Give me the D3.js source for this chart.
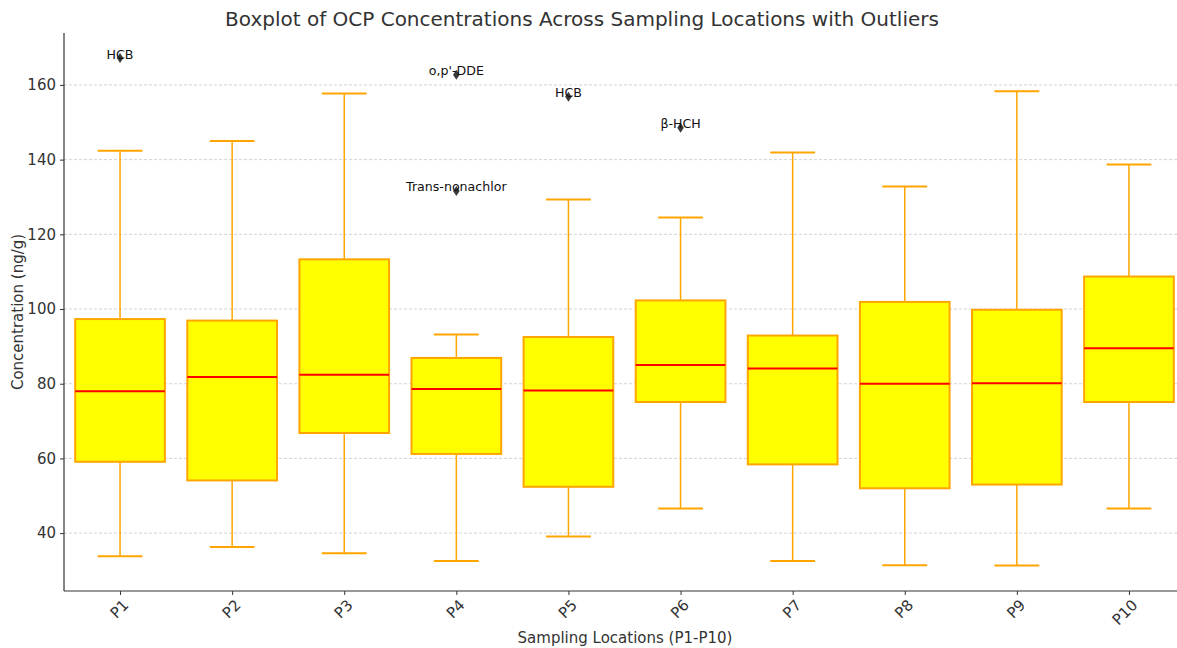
<!DOCTYPE html>
<html>
<head>
<meta charset="utf-8">
<script src="https://cdn.jsdelivr.net/npm/d3@7"></script>
<style>
  body { margin: 0; background: #fff; }
  svg { font-family: "DejaVu Sans", sans-serif; }
</style>
</head>
<body>
<svg id="chart" width="1177" height="648"></svg>
<script>
// values
var locations = ["P1","P2","P3","P4","P5","P6","P7","P8","P9","P10"]
var whiskerLow  = [33.8, 36.3, 34.6, 32.5, 39.1, 46.6, 32.5, 31.4, 31.3, 46.6]
var q1          = [59.1, 54.1, 66.8, 61.2, 52.4, 75.1, 58.4, 52.0, 53.0, 75.1]
var medians     = [78.0, 81.8, 82.4, 78.6, 78.2, 85.0, 84.1, 80.0, 80.1, 89.5]
var q3          = [97.3, 96.9, 113.3, 86.9, 92.5, 102.3, 92.9, 101.9, 99.8, 108.7]
var whiskerHigh = [142.4, 145.0, 157.7, 93.2, 129.3, 124.5, 141.9, 132.8, 158.3, 138.7]

var outlierLoc   = ["P1", "P4", "P4", "P5", "P6"]
var outlierVal   = [167.2, 162.7, 131.6, 156.8, 148.5]
var outlierLabel = ["HCB", "o,p'-DDE", "Trans-nonachlor", "HCB", "β-HCH"]

var yTicks = [40, 60, 80, 100, 120, 140, 160]

var boxes = locations.map(function(d, i) {
  return {loc: d, i: i + 1, lo: whiskerLow[i], q1: q1[i], med: medians[i], q3: q3[i], hi: whiskerHigh[i]}
})
var outliers = outlierLoc.map(function(d, i) {
  return {i: locations.indexOf(d) + 1, v: outlierVal[i], label: outlierLabel[i]}
})

var svg = d3.select("#chart")
var margin = {left: 64, top: 33, bottom: 591}
var axisColor = "#333"

var x = d3.scaleLinear().domain([0.5, 10.5]).range([64, 1185])
var y = d3.scaleLinear().domain([24.5, 173.9]).range([591, 33])

var boxW = 0.8, capW = 0.4

// grid
svg.append("g")
  .attr("class", "grid")
  .selectAll("line").data(yTicks).enter().append("line")
  .attr("x1", margin.left).attr("x2", 1177)
  .attr("y1", d => y(d)).attr("y2", d => y(d))
  .attr("stroke", "#c8c8c8")
  .attr("stroke-width", 0.8)
  .attr("stroke-dasharray", "3,2")

var g = svg.append("g").attr("class", "boxes")

// whiskers
g.selectAll(".whiskerLow").data(boxes).enter().append("line")
  .attr("class", "whiskerLow")
  .attr("x1", d => x(d.i)).attr("x2", d => x(d.i))
  .attr("y1", d => y(d.q1)).attr("y2", d => y(d.lo))
  .attr("stroke", "#FFA500").attr("stroke-width", 1.5)

g.selectAll(".whiskerHigh").data(boxes).enter().append("line")
  .attr("class", "whiskerHigh")
  .attr("x1", d => x(d.i)).attr("x2", d => x(d.i))
  .attr("y1", d => y(d.q3)).attr("y2", d => y(d.hi))
  .attr("stroke", "#FFA500").attr("stroke-width", 1.5)

// caps
g.selectAll(".capLow").data(boxes).enter().append("line")
  .attr("class", "capLow")
  .attr("x1", d => x(d.i - capW / 2)).attr("x2", d => x(d.i + capW / 2))
  .attr("y1", d => y(d.lo)).attr("y2", d => y(d.lo))
  .attr("stroke", "#FFA500").attr("stroke-width", 2)

g.selectAll(".capHigh").data(boxes).enter().append("line")
  .attr("class", "capHigh")
  .attr("x1", d => x(d.i - capW / 2)).attr("x2", d => x(d.i + capW / 2))
  .attr("y1", d => y(d.hi)).attr("y2", d => y(d.hi))
  .attr("stroke", "#FFA500").attr("stroke-width", 2)

// boxes
g.selectAll(".box").data(boxes).enter().append("rect")
  .attr("class", "box")
  .attr("x", d => x(d.i - boxW / 2))
  .attr("width", d => x(d.i + boxW / 2) - x(d.i - boxW / 2))
  .attr("y", d => y(d.q3))
  .attr("height", d => y(d.q1) - y(d.q3))
  .attr("fill", "#FFFF00")
  .attr("stroke", "#FFA500")
  .attr("stroke-width", 2)

// medians
g.selectAll(".median").data(boxes).enter().append("line")
  .attr("class", "median")
  .attr("x1", d => x(d.i - boxW / 2)).attr("x2", d => x(d.i + boxW / 2))
  .attr("y1", d => y(d.med)).attr("y2", d => y(d.med))
  .attr("stroke", "#FF0000").attr("stroke-width", 2)

// outliers
var diamond = "M0,-5L3.3,0L0,5L-3.3,0Z"
g.selectAll(".outlier").data(outliers).enter().append("path")
  .attr("class", "outlier")
  .attr("d", diamond)
  .attr("transform", d => `translate(${x(d.i)},${y(d.v)})`)
  .attr("fill", "#3a3a3a")

g.selectAll(".outlierText").data(outliers).enter().append("text")
  .attr("class", "outlierText")
  .attr("x", d => x(d.i))
  .attr("y", d => y(d.v) + 0.5)
  .attr("text-anchor", "middle")
  .attr("font-size", 12.6)
  .attr("fill", "#111")
  .text(d => d.label)

// axes
var yAxis = svg.append("g")
  .attr("class", "y-axis")
  .attr("transform", `translate(${margin.left},0)`)
  .call(d3.axisLeft(y).tickValues(yTicks).tickSize(4).tickPadding(4).tickSizeOuter(0))
yAxis.select(".domain").remove()
yAxis.selectAll("text").attr("font-size", 15).attr("fill", axisColor).attr("font-family", "DejaVu Sans")
yAxis.selectAll("line").attr("stroke", axisColor)

var xAxis = svg.append("g")
  .attr("class", "x-axis")
  .attr("transform", `translate(0,${margin.bottom})`)
  .call(d3.axisBottom(x).tickValues(d3.range(1, 11)).tickFormat(d => locations[d - 1]).tickSize(4).tickSizeOuter(0))
xAxis.select(".domain").remove()
xAxis.selectAll("line").attr("stroke", axisColor)
xAxis.selectAll("text")
  .attr("font-size", 15).attr("fill", axisColor).attr("font-family", "DejaVu Sans")
  .attr("text-anchor", "end")
  .attr("dy", null)
  .attr("y", 0)
  .attr("transform", "translate(9,15) rotate(-45)")

// spines
svg.append("line")
  .attr("x1", margin.left).attr("x2", margin.left)
  .attr("y1", margin.top).attr("y2", margin.bottom)
  .attr("stroke", axisColor).attr("stroke-width", 1.2)
svg.append("line")
  .attr("x1", margin.left).attr("x2", 1177)
  .attr("y1", margin.bottom).attr("y2", margin.bottom)
  .attr("stroke", axisColor).attr("stroke-width", 1.2)

// titles
svg.append("text")
  .attr("x", 582).attr("y", 26)
  .attr("text-anchor", "middle")
  .attr("font-size", 20)
  .attr("fill", axisColor)
  .text("Boxplot of OCP Concentrations Across Sampling Locations with Outliers")

svg.append("text")
  .attr("x", 625).attr("y", 643)
  .attr("text-anchor", "middle")
  .attr("font-size", 15)
  .attr("fill", axisColor)
  .text("Sampling Locations (P1-P10)")

svg.append("text")
  .attr("transform", `translate(23,${(margin.top + margin.bottom) / 2}) rotate(-90)`)
  .attr("text-anchor", "middle")
  .attr("font-size", 15)
  .attr("fill", axisColor)
  .text("Concentration (ng/g)")
</script>
</body>
</html>
